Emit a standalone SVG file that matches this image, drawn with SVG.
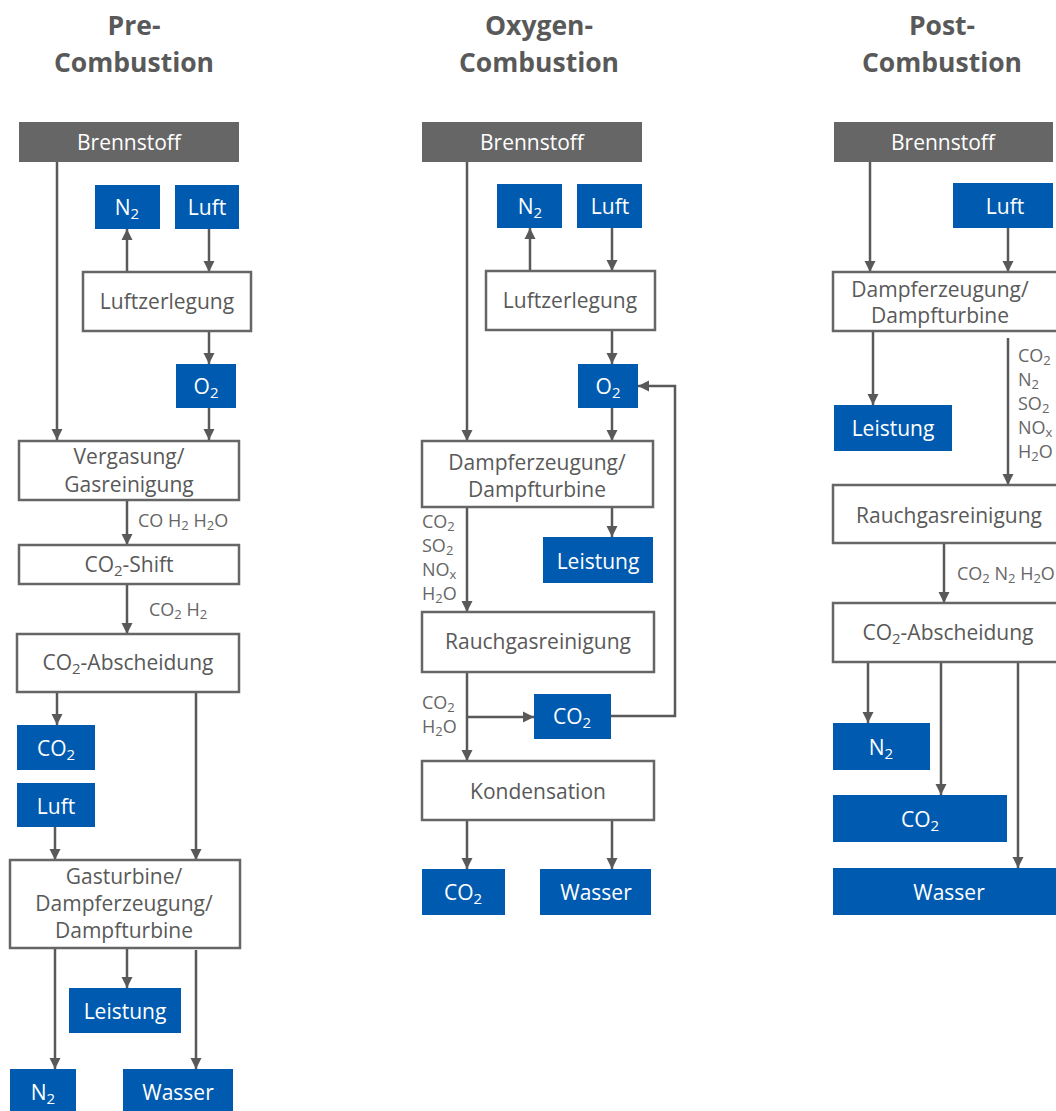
<svg xmlns="http://www.w3.org/2000/svg" width="1056" height="1111" viewBox="0 0 1056 1111">
<defs>
<marker id="ah" markerWidth="12" markerHeight="12" refX="11" refY="6" orient="auto" markerUnits="userSpaceOnUse">
<path d="M0,0.5 L11,6 L0,11.5 Z" fill="#595959"/>
</marker>
<style>
.hd{font-family:"Open Sans","Liberation Sans",sans-serif;font-weight:bold;font-size:26.5px;fill:#595959;text-anchor:middle}
.t{font-family:"Open Sans","Liberation Sans",sans-serif;font-size:21px;fill:#595959;text-anchor:middle}
.w{font-family:"Open Sans","Liberation Sans",sans-serif;font-size:21px;fill:#ffffff;text-anchor:middle}
.s{font-family:"Open Sans","Liberation Sans",sans-serif;font-size:18px;fill:#666666}
.box{fill:#ffffff;stroke:#666666;stroke-width:2.5}
.blue{fill:#005BB0}
.gray{fill:#666666}
.c{fill:none;stroke:#595959;stroke-width:2.5}
.a{marker-end:url(#ah)}
</style>
</defs>
<rect width="1056" height="1111" fill="#ffffff"/>

<g id="headers">
<text class="hd" x="134" y="35">Pre-</text>
<text class="hd" x="134" y="72">Combustion</text>
<text class="hd" x="539" y="35">Oxygen-</text>
<text class="hd" x="539" y="72">Combustion</text>
<text class="hd" x="942" y="35">Post-</text>
<text class="hd" x="942" y="72">Combustion</text>
</g>

<g id="connectors">
<!-- Pre -->
<path class="c a" d="M57 162 V440"/>
<path class="c a" d="M127 272 V229"/>
<path class="c a" d="M209 229 V272"/>
<path class="c a" d="M209 331 V364"/>
<path class="c a" d="M209 408 V440"/>
<path class="c a" d="M127 500 V545"/>
<path class="c a" d="M127 584 V634"/>
<path class="c a" d="M57 692 V725"/>
<path class="c a" d="M196 692 V860"/>
<path class="c a" d="M55 827 V860"/>
<path class="c a" d="M55 948 V1069"/>
<path class="c a" d="M127 948 V988"/>
<path class="c a" d="M196 950 V1069"/>
<!-- Oxygen -->
<path class="c a" d="M467 162 V441"/>
<path class="c a" d="M530 271 V228"/>
<path class="c a" d="M612 228 V271"/>
<path class="c a" d="M612 330 V364"/>
<path class="c a" d="M612 408 V441"/>
<path class="c a" d="M612 507 V537"/>
<path class="c a" d="M467 507 V612"/>
<path class="c a" d="M467 672 V761"/>
<path class="c a" d="M467 717 H534"/>
<path class="c a" d="M611 716 H675 V386 H638"/>
<path class="c a" d="M467 820 V869"/>
<path class="c a" d="M612 820 V869"/>
<!-- Post -->
<path class="c a" d="M870 162 V272"/>
<path class="c a" d="M1008 228 V272"/>
<path class="c a" d="M873 331 V405"/>
<path class="c a" d="M1008 338 V485"/>
<path class="c a" d="M944 543 V603"/>
<path class="c a" d="M868 662 V723"/>
<path class="c a" d="M941 662 V795"/>
<path class="c a" d="M1018 662 V868"/>
</g>

<g id="labels">
<text class="s" x="138" y="527">CO H<tspan font-size="13" dy="3">2</tspan><tspan dy="-3"> H</tspan><tspan font-size="13" dy="3">2</tspan><tspan dy="-3">O</tspan></text>
<text class="s" x="149" y="616">CO<tspan font-size="13" dy="3">2</tspan><tspan dy="-3"> H</tspan><tspan font-size="13" dy="3">2</tspan></text>
<text class="s"><tspan x="422" y="528">CO</tspan><tspan font-size="13" dy="3">2</tspan><tspan x="422" y="552">SO</tspan><tspan font-size="13" dy="3">2</tspan><tspan x="422" y="576">NO</tspan><tspan font-size="13" dy="3">x</tspan><tspan x="422" y="600">H</tspan><tspan font-size="13" dy="3">2</tspan><tspan dy="-3">O</tspan></text>
<text class="s"><tspan x="422" y="709">CO</tspan><tspan font-size="13" dy="3">2</tspan><tspan x="422" y="733">H</tspan><tspan font-size="13" dy="3">2</tspan><tspan dy="-3">O</tspan></text>
<text class="s"><tspan x="1018" y="362">CO</tspan><tspan font-size="13" dy="3">2</tspan><tspan x="1018" y="386">N</tspan><tspan font-size="13" dy="3">2</tspan><tspan x="1018" y="410">SO</tspan><tspan font-size="13" dy="3">2</tspan><tspan x="1018" y="434">NO</tspan><tspan font-size="13" dy="3">x</tspan><tspan x="1018" y="458">H</tspan><tspan font-size="13" dy="3">2</tspan><tspan dy="-3">O</tspan></text>
<text class="s" x="957" y="580">CO<tspan font-size="13" dy="3">2</tspan><tspan dy="-3"> N</tspan><tspan font-size="13" dy="3">2</tspan><tspan dy="-3"> H</tspan><tspan font-size="13" dy="3">2</tspan><tspan dy="-3">O</tspan></text>
</g>

<!-- Pre-Combustion nodes -->
<g id="pre-brennstoff"><rect class="gray" x="19" y="122" width="220" height="40"/><text class="w" x="129" y="150" fill="#eeeeee">Brennstoff</text></g>
<g id="pre-n2"><rect class="blue" x="95" y="185" width="65" height="44"/><text class="w" x="127" y="215">N<tspan font-size="15" dy="4">2</tspan></text></g>
<g id="pre-luft"><rect class="blue" x="175" y="185" width="64" height="44"/><text class="w" x="207" y="215">Luft</text></g>
<g id="pre-luftzerlegung"><rect class="box" x="83" y="272" width="168" height="59"/><text class="t" x="167" y="309">Luftzerlegung</text></g>
<g id="pre-o2"><rect class="blue" x="176" y="364" width="60" height="44"/><text class="w" x="206" y="394">O<tspan font-size="15" dy="4">2</tspan></text></g>
<g id="pre-vergasung"><rect class="box" x="19" y="441" width="220" height="59"/><text class="t" x="129" y="464">Vergasung/</text><text class="t" x="129" y="492">Gasreinigung</text></g>
<g id="pre-shift"><rect class="box" x="19" y="545" width="220" height="39"/><text class="t" x="129" y="572">CO<tspan font-size="15" dy="4">2</tspan><tspan dy="-4">-Shift</tspan></text></g>
<g id="pre-abscheidung"><rect class="box" x="17" y="634" width="222" height="58"/><text class="t" x="128" y="670">CO<tspan font-size="15" dy="4">2</tspan><tspan dy="-4">-Abscheidung</tspan></text></g>
<g id="pre-co2"><rect class="blue" x="17" y="725" width="78" height="45"/><text class="w" x="56" y="756">CO<tspan font-size="15" dy="4">2</tspan></text></g>
<g id="pre-luft2"><rect class="blue" x="17" y="783" width="78" height="44"/><text class="w" x="56" y="814" font-size="23">Luft</text></g>
<g id="pre-gasturbine"><rect class="box" x="10" y="860" width="230" height="88"/><text class="t" x="124" y="884">Gasturbine/</text><text class="t" x="124" y="911">Dampferzeugung/</text><text class="t" x="124" y="938">Dampfturbine</text></g>
<g id="pre-leistung"><rect class="blue" x="69" y="988" width="112" height="45"/><text class="w" x="125" y="1019">Leistung</text></g>
<g id="pre-n2b"><rect class="blue" x="10" y="1069" width="66" height="50"/><text class="w" x="43" y="1100">N<tspan font-size="15" dy="4">2</tspan></text></g>
<g id="pre-wasser"><rect class="blue" x="123" y="1069" width="110" height="50"/><text class="w" x="178" y="1100">Wasser</text></g>

<!-- Oxygen-Combustion nodes -->
<g id="oxy-brennstoff"><rect class="gray" x="422" y="122" width="220" height="40"/><text class="w" x="532" y="150" fill="#eeeeee">Brennstoff</text></g>
<g id="oxy-n2"><rect class="blue" x="497" y="184" width="65" height="44"/><text class="w" x="530" y="214">N<tspan font-size="15" dy="4">2</tspan></text></g>
<g id="oxy-luft"><rect class="blue" x="577" y="184" width="65" height="44"/><text class="w" x="610" y="214">Luft</text></g>
<g id="oxy-luftzerlegung"><rect class="box" x="486" y="271" width="169" height="59"/><text class="t" x="570" y="308">Luftzerlegung</text></g>
<g id="oxy-o2"><rect class="blue" x="578" y="364" width="60" height="44"/><text class="w" x="608" y="394">O<tspan font-size="15" dy="4">2</tspan></text></g>
<g id="oxy-dampf"><rect class="box" x="422" y="441" width="231" height="66"/><text class="t" x="537" y="470">Dampferzeugung/</text><text class="t" x="537" y="497">Dampfturbine</text></g>
<g id="oxy-leistung"><rect class="blue" x="543" y="537" width="110" height="46"/><text class="w" x="598" y="569">Leistung</text></g>
<g id="oxy-rauchgas"><rect class="box" x="422" y="612" width="232" height="60"/><text class="t" x="538" y="649">Rauchgasreinigung</text></g>
<g id="oxy-co2"><rect class="blue" x="534" y="694" width="77" height="45"/><text class="w" x="572" y="724">CO<tspan font-size="15" dy="4">2</tspan></text></g>
<g id="oxy-kondensation"><rect class="box" x="422" y="761" width="232" height="59"/><text class="t" x="538" y="799">Kondensation</text></g>
<g id="oxy-co2b"><rect class="blue" x="422" y="869" width="83" height="46"/><text class="w" x="463" y="900">CO<tspan font-size="15" dy="4">2</tspan></text></g>
<g id="oxy-wasser"><rect class="blue" x="540" y="869" width="111" height="46"/><text class="w" x="596" y="900">Wasser</text></g>

<!-- Post-Combustion nodes -->
<g id="post-brennstoff"><rect class="gray" x="834" y="122" width="219" height="40"/><text class="w" x="943" y="150" fill="#eeeeee">Brennstoff</text></g>
<g id="post-luft"><rect class="blue" x="953" y="183" width="100" height="45"/><text class="w" x="1005" y="214">Luft</text></g>
<g id="post-dampf"><rect class="box" x="833" y="272" width="232" height="59"/><text class="t" x="940" y="297">Dampferzeugung/</text><text class="t" x="940" y="323">Dampfturbine</text></g>
<g id="post-leistung"><rect class="blue" x="834" y="405" width="118" height="46"/><text class="w" x="893" y="436">Leistung</text></g>
<g id="post-rauchgas"><rect class="box" x="833" y="485" width="232" height="58"/><text class="t" x="949" y="523">Rauchgasreinigung</text></g>
<g id="post-abscheidung"><rect class="box" x="833" y="603" width="232" height="59"/><text class="t" x="948" y="640">CO<tspan font-size="15" dy="4">2</tspan><tspan dy="-4">-Abscheidung</tspan></text></g>
<g id="post-n2"><rect class="blue" x="833" y="723" width="97" height="47"/><text class="w" x="881" y="755">N<tspan font-size="15" dy="4">2</tspan></text></g>
<g id="post-co2"><rect class="blue" x="833" y="795" width="174" height="47"/><text class="w" x="920" y="827">CO<tspan font-size="15" dy="4">2</tspan></text></g>
<g id="post-wasser"><rect class="blue" x="833" y="868" width="232" height="47"/><text class="w" x="949" y="900">Wasser</text></g>
</svg>
